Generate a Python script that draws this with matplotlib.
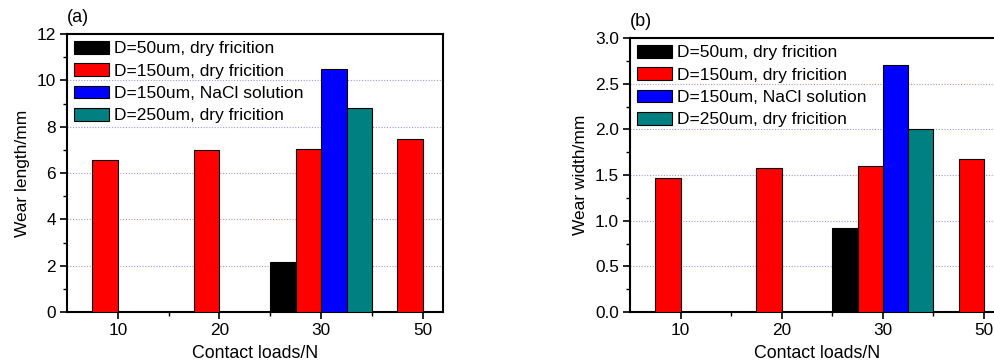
import numpy as np
import matplotlib
matplotlib.use("Agg")
import matplotlib.pyplot as plt
from matplotlib.ticker import MultipleLocator, FormatStrFormatter

plt.rcParams["font.family"] = ["Liberation Sans", "DejaVu Sans"]

loads = ["10", "20", "30", "50"]
series = ["D=50um, dry fricition", "D=150um, dry fricition",
          "D=150um, NaCl solution", "D=250um, dry fricition"]
colors = ["#000000", "#ff0000", "#0000ff", "#008080"]

# None = no bar at that load
length_d50 = [None, None, 2.15, None]
length_d150 = [6.55, 6.98, 7.04, 7.46]
length_nacl = [None, None, 10.5, None]
length_d250 = [None, None, 8.8, None]

width_d50 = [None, None, 0.92, None]
width_d150 = [1.47, 1.58, 1.60, 1.67]
width_nacl = [None, None, 2.70, None]
width_d250 = [None, None, 2.0, None]

fig = plt.figure(figsize=(9.95, 3.63), dpi=100)
ax_a = fig.add_axes([0.0673, 0.1405, 0.378, 0.7658])
ax_b = fig.add_axes([0.6332, 0.1405, 0.376, 0.7548])


def draw(ax, data, ymax, ystep, ylabel, tag):
    x = np.arange(1, len(loads) + 1)
    w = 0.25
    offsets = [-1.5 * w, -0.5 * w, 0.5 * w, 1.5 * w]
    handles = []
    for vals, off, c, name in zip(data, offsets, colors, series):
        xs = [xi + off for xi, v in zip(x, vals) if v is not None]
        hs = [v for v in vals if v is not None]
        b = ax.bar(xs, hs, width=w, color=c, edgecolor="black",
                   linewidth=0.8, label=name, zorder=3)
        handles.append(b)
    ax.set_xlim(0.5, 4.2)
    ax.set_ylim(0, ymax)
    ax.set_xticks(x)
    ax.set_xticklabels(loads)
    ax.set_xticks(x[:-1] + 0.5, minor=True)
    ax.yaxis.set_major_locator(MultipleLocator(ystep))
    ax.yaxis.set_minor_locator(MultipleLocator(ystep / 2))
    ax.tick_params(which="major", length=5, width=1.2, labelsize=12.4, pad=3)
    ax.tick_params(which="minor", length=3, width=1.0)
    for s in ax.spines.values():
        s.set_linewidth(1.5)
    for g in np.arange(ystep, ymax, ystep):
        ax.axhline(g, color="#9999ee", linestyle=(0, (1, 1.5)),
                   linewidth=0.8, zorder=1)
    ax.set_ylabel(ylabel, fontsize=12.5, labelpad=5)
    ax.set_xlabel("Contact loads/N", fontsize=12.8, labelpad=5)
    ax.text(0.0, 1.03, tag, transform=ax.transAxes, fontsize=13,
            ha="left", va="bottom")
    ax.legend(handles=handles, loc="upper left", frameon=False,
              fontsize=12.5, handlelength=2.0, handleheight=0.75,
              handletextpad=0.3, labelspacing=0.4,
              borderaxespad=0.15, borderpad=0.25)


draw(ax_a, [length_d50, length_d150, length_nacl, length_d250],
     12, 2, "Wear length/mm", "(a)")
draw(ax_b, [width_d50, width_d150, width_nacl, width_d250],
     3.0, 0.5, "Wear width/mm", "(b)")
ax_b.yaxis.set_major_formatter(FormatStrFormatter("%.1f"))

fig.savefig("out.png", dpi=100)
